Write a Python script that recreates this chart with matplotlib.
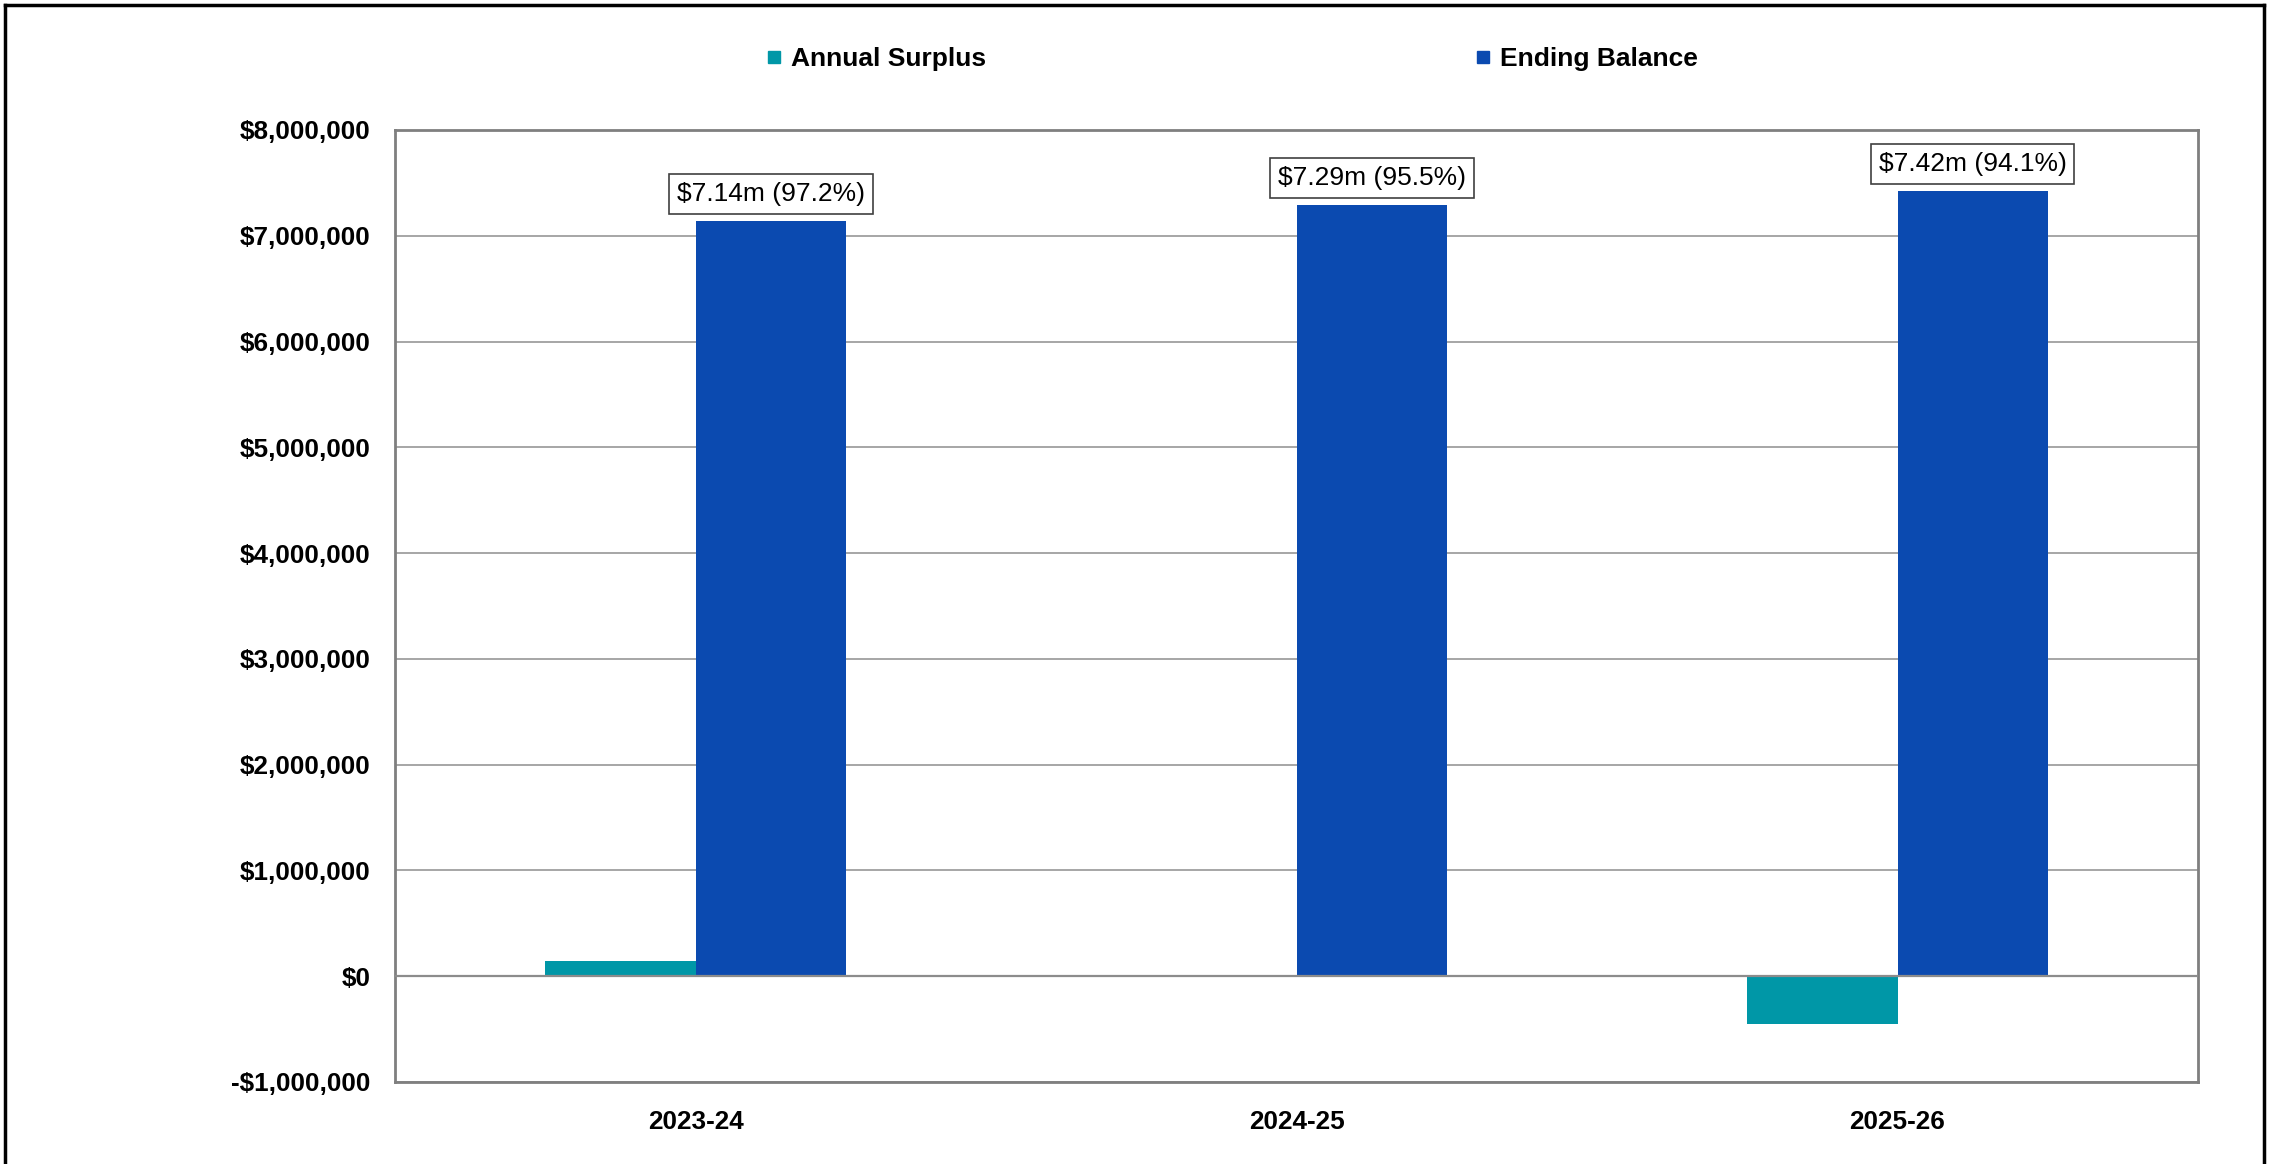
import matplotlib
matplotlib.use("Agg")
import matplotlib.pyplot as plt
from matplotlib.lines import Line2D
from matplotlib.ticker import FuncFormatter, MultipleLocator

plt.rcParams['font.family'] = ['Liberation Sans', 'DejaVu Sans']

years = ["2023-24", "2024-25", "2025-26"]
annual_surplus = [140000, 0, -450000]
ending_balance = [7140000, 7290000, 7420000]
balance_labels = ["$7.14m (97.2%)", "$7.29m (95.5%)", "$7.42m (94.1%)"]

teal = "#0097A7"
blue = "#0B4AB0"

fig = plt.figure(figsize=(22.72, 11.64), dpi=100)
ax = fig.add_axes([0.17386, 0.07045, 0.96743 - 0.17386, 0.88832 - 0.07045])

x = list(range(len(years)))
w = 0.25
ax.bar([i - w / 2 for i in x], annual_surplus, width=w, color=teal, zorder=3)
ax.bar([i + w / 2 for i in x], ending_balance, width=w, color=blue, zorder=3)

for i, (v, lab) in enumerate(zip(ending_balance, balance_labels)):
    ax.annotate(lab, xy=(i + w / 2, v), xytext=(0, 11), textcoords="offset points",
                ha="center", va="bottom", fontsize=19, color="black",
                bbox=dict(boxstyle="square,pad=0.3", fc="white", ec="#404040", lw=1.2),
                zorder=5)

ax.set_xlim(-0.5, 2.5)
ax.set_ylim(-1000000, 8000000)
ax.yaxis.set_major_locator(MultipleLocator(1000000))
ax.yaxis.set_major_formatter(FuncFormatter(
    lambda v, p: ("-$" if v < 0 else "$") + f"{abs(int(round(v))):,}"))
ax.set_xticks(x)
ax.set_xticklabels(years)
ax.tick_params(axis="both", length=0, labelsize=18.8)
ax.tick_params(axis="y", pad=17.5)
ax.tick_params(axis="x", pad=20)
for t in ax.get_xticklabels() + ax.get_yticklabels():
    t.set_fontweight("bold")

ax.grid(axis="y", color="#A6A6A6", lw=1.4, zorder=0)
ax.axhline(0, color="#8C8C8C", lw=1.6, zorder=4)
for s in ax.spines.values():
    s.set_color("#7F7F7F")
    s.set_linewidth(2)

handles = [Line2D([], [], marker="s", ls="none", color=teal, markersize=9),
           Line2D([], [], marker="s", ls="none", color=blue, markersize=9)]
fig.legend(handles, ["Annual Surplus", "Ending Balance"], loc="center left",
           bbox_to_anchor=(767 / 2272, 1 - 59 / 1164), ncol=2, frameon=False,
           prop=dict(size=19, weight="bold"), handlelength=0.5, handletextpad=0.4,
           columnspacing=18.6, borderpad=0, borderaxespad=0)

# outer frame of the figure (top, left, right)
fig.add_artist(Line2D([4.5 / 2272, 4.5 / 2272], [0, 1 - 4.5 / 1164], color="black", lw=2.5))
fig.add_artist(Line2D([2263.5 / 2272, 2263.5 / 2272], [0, 1 - 4.5 / 1164], color="black", lw=2.5))
fig.add_artist(Line2D([4.5 / 2272, 2263.5 / 2272], [1 - 4.5 / 1164, 1 - 4.5 / 1164], color="black", lw=2.5))

fig.savefig("out.png", dpi=100)
